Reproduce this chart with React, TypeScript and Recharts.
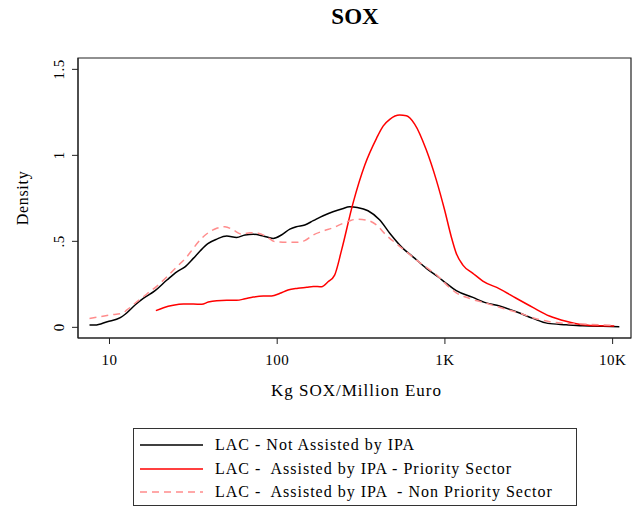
import React from 'react'
import { LineChart, Line, XAxis, YAxis, ReferenceArea } from 'recharts'

// Kernel density of SOX intensity (kg per million euro), log x axis.
const NOT_ASSISTED_X = [7.6, 8.2, 9.7, 11.6, 12.4, 14.2, 15.9, 18.7, 22, 25.2, 28.2, 31.6, 34.7, 38.8, 43.6, 50, 57.3, 64.3, 71.9, 82.6, 94.6, 106, 119, 130, 146, 164, 188, 215, 245, 270, 300, 348, 409, 469, 562, 645, 775, 908, 1019, 1169, 1469, 1723, 2117, 2662, 3342, 4106, 5280, 6629, 8716, 10965]
const NOT_ASSISTED_Y = [0.013, 0.013, 0.033, 0.056, 0.076, 0.13, 0.168, 0.213, 0.275, 0.323, 0.352, 0.401, 0.444, 0.488, 0.513, 0.531, 0.523, 0.537, 0.541, 0.531, 0.517, 0.537, 0.571, 0.585, 0.595, 0.62, 0.649, 0.672, 0.69, 0.701, 0.697, 0.678, 0.624, 0.547, 0.459, 0.41, 0.343, 0.294, 0.256, 0.213, 0.174, 0.145, 0.124, 0.091, 0.052, 0.023, 0.015, 0.009, 0.006, 0.004]

const PRIORITY_X = [18.9, 21, 24, 27.6, 31.6, 35.5, 38.8, 43.6, 50, 57.3, 64.3, 71.9, 82.6, 92.6, 104, 116, 133, 150, 164, 184, 201, 220, 242, 283, 333, 391, 428, 469, 537, 589, 660, 775, 889, 996, 1091, 1169, 1280, 1469, 1683, 2117, 2662, 3342, 4200, 5280, 6629, 8337, 10233]
const PRIORITY_Y = [0.097, 0.114, 0.128, 0.135, 0.135, 0.134, 0.147, 0.155, 0.157, 0.157, 0.166, 0.176, 0.182, 0.182, 0.198, 0.217, 0.227, 0.233, 0.238, 0.236, 0.265, 0.304, 0.449, 0.721, 0.944, 1.099, 1.17, 1.209, 1.234, 1.23, 1.182, 1.031, 0.856, 0.682, 0.527, 0.43, 0.362, 0.314, 0.269, 0.224, 0.169, 0.116, 0.066, 0.035, 0.015, 0.009, 0.008]

const NON_PRIORITY_X = [7.6, 8.8, 10.1, 11.9, 12.7, 14.6, 16.7, 19.2, 22, 25.2, 28.9, 31.6, 34.7, 38.8, 43.6, 48.8, 54.7, 61.4, 68.8, 77.1, 86.5, 96.9, 114, 130, 146, 164, 188, 215, 247, 271, 296, 340, 391, 446, 511, 589, 678, 775, 908, 1069, 1169, 1393, 1762, 2228, 2818, 3342, 4200, 5280, 6629, 8337, 10233]
const NON_PRIORITY_Y = [0.052, 0.062, 0.072, 0.081, 0.101, 0.149, 0.194, 0.24, 0.294, 0.352, 0.41, 0.459, 0.508, 0.55, 0.576, 0.585, 0.566, 0.542, 0.55, 0.547, 0.527, 0.498, 0.494, 0.494, 0.504, 0.537, 0.56, 0.579, 0.605, 0.62, 0.628, 0.624, 0.595, 0.537, 0.488, 0.44, 0.391, 0.349, 0.298, 0.23, 0.201, 0.169, 0.14, 0.11, 0.081, 0.056, 0.033, 0.023, 0.019, 0.015, 0.012]

const X_TICKS = [10, 100, 1000, 10000]
const X_TICK_LABELS = ['10', '100', '1K', '10K']
const Y_TICKS = [0, 0.5, 1, 1.5]
const Y_TICK_LABELS = ['0', '.5', '1', '1.5']

const X_DOMAIN = [6.49, 12870]
const Y_DOMAIN = [-0.062, 1.566]

const SERIES = [
  { name: 'LAC - Not Assisted by IPA', xs: NOT_ASSISTED_X, ys: NOT_ASSISTED_Y, color: '#000000', dash: undefined },
  { name: 'LAC -  Assisted by IPA - Priority Sector', xs: PRIORITY_X, ys: PRIORITY_Y, color: '#ff0000', dash: undefined },
  { name: 'LAC -  Assisted by IPA  - Non Priority Sector', xs: NON_PRIORITY_X, ys: NON_PRIORITY_Y, color: '#ff8c8c', dash: '7 5' },
]

const FONT = "'Liberation Serif', serif"

function toPoints(xs: number[], ys: number[]) {
  return xs.map((x, i) => ({ x, y: ys[i] }))
}

function XTick({ x, y, payload }: any) {
  const i = X_TICKS.indexOf(payload.value)
  return (
    <text x={x} y={y} dy={19} textAnchor="middle" fontSize={15} fontFamily={FONT} letterSpacing={0.5} fill="#000">
      {X_TICK_LABELS[i]}
    </text>
  )
}

function YTick({ x, y, payload }: any) {
  const i = Y_TICKS.indexOf(payload.value)
  return (
    <text transform={`translate(${x - 6},${y}) rotate(-90)`} textAnchor="middle" fontSize={15} fontFamily={FONT} letterSpacing={0.5} fill="#000">
      {Y_TICK_LABELS[i]}
    </text>
  )
}

export default function App() {
  return (
    <div style={{ position: 'absolute', left: 0, top: 0, width: 641, height: 523, background: '#fff', fontFamily: FONT }}>
      <div
        style={{
          position: 'absolute',
          left: 255,
          top: 5,
          width: 200,
          textAlign: 'center',
          fontSize: 23,
          lineHeight: '24px',
          fontWeight: 700,
        }}
      >
        SOX
      </div>
      <LineChart width={641} height={523} margin={{ top: 58, right: 10, bottom: 125, left: 21 }}>
        <XAxis
          dataKey="x"
          type="number"
          scale="log"
          domain={X_DOMAIN}
          allowDataOverflow
          ticks={X_TICKS}
          tick={<XTick />}
          tickSize={6}
          height={60}
          stroke="#222"
          label={{
            content: ({ viewBox }: any) => (
              <text
                x={viewBox.x + viewBox.width / 2 + 2}
                y={viewBox.y + 58}
                textAnchor="middle"
                fontSize={17}
                fontFamily={FONT}
                letterSpacing={1}
                fill="#000"
              >
                Kg SOX/Million Euro
              </text>
            ),
          }}
        />
        <YAxis
          type="number"
          domain={Y_DOMAIN}
          allowDataOverflow
          ticks={Y_TICKS}
          tick={<YTick />}
          tickSize={6}
          width={57}
          stroke="#222"
          label={{
            content: ({ viewBox }: any) => (
              <text
                transform={`translate(${viewBox.x + 7},${viewBox.y + viewBox.height / 2}) rotate(-90)`}
                textAnchor="middle"
                fontSize={16}
                fontFamily={FONT}
                letterSpacing={0.7}
                fill="#000"
              >
                Density
              </text>
            ),
          }}
        />
        <ReferenceArea
          x1={X_DOMAIN[0]}
          x2={X_DOMAIN[1]}
          y1={Y_DOMAIN[0]}
          y2={Y_DOMAIN[1]}
          fill="none"
          stroke="#222"
          strokeWidth={1.2}
        />
        {SERIES.map((s) => (
          <Line
            key={s.name}
            data={toPoints(s.xs, s.ys)}
            dataKey="y"
            type="monotone"
            stroke={s.color}
            strokeWidth={1.5}
            strokeDasharray={s.dash}
            dot={false}
            isAnimationActive={false}
          />
        ))}
      </LineChart>
      <div
        style={{
          position: 'absolute',
          left: 133,
          top: 428,
          width: 442,
          height: 76,
          border: '1px solid #333',
        }}
      >
        {SERIES.map((s, i) => (
          <div
            key={s.name}
            style={{
              position: 'absolute',
              left: 6,
              top: 5 + i * 23.5,
              height: 22,
              display: 'flex',
              alignItems: 'center',
              whiteSpace: 'pre',
              fontSize: 16,
              letterSpacing: 1,
            }}
          >
            <svg width={63} height={4} style={{ marginRight: 12 }}>
              <line x1={0} y1={2} x2={63} y2={2} stroke={s.color} strokeWidth={1.5} strokeDasharray={s.dash} />
            </svg>
            <span>{s.name}</span>
          </div>
        ))}
      </div>
    </div>
  )
}
